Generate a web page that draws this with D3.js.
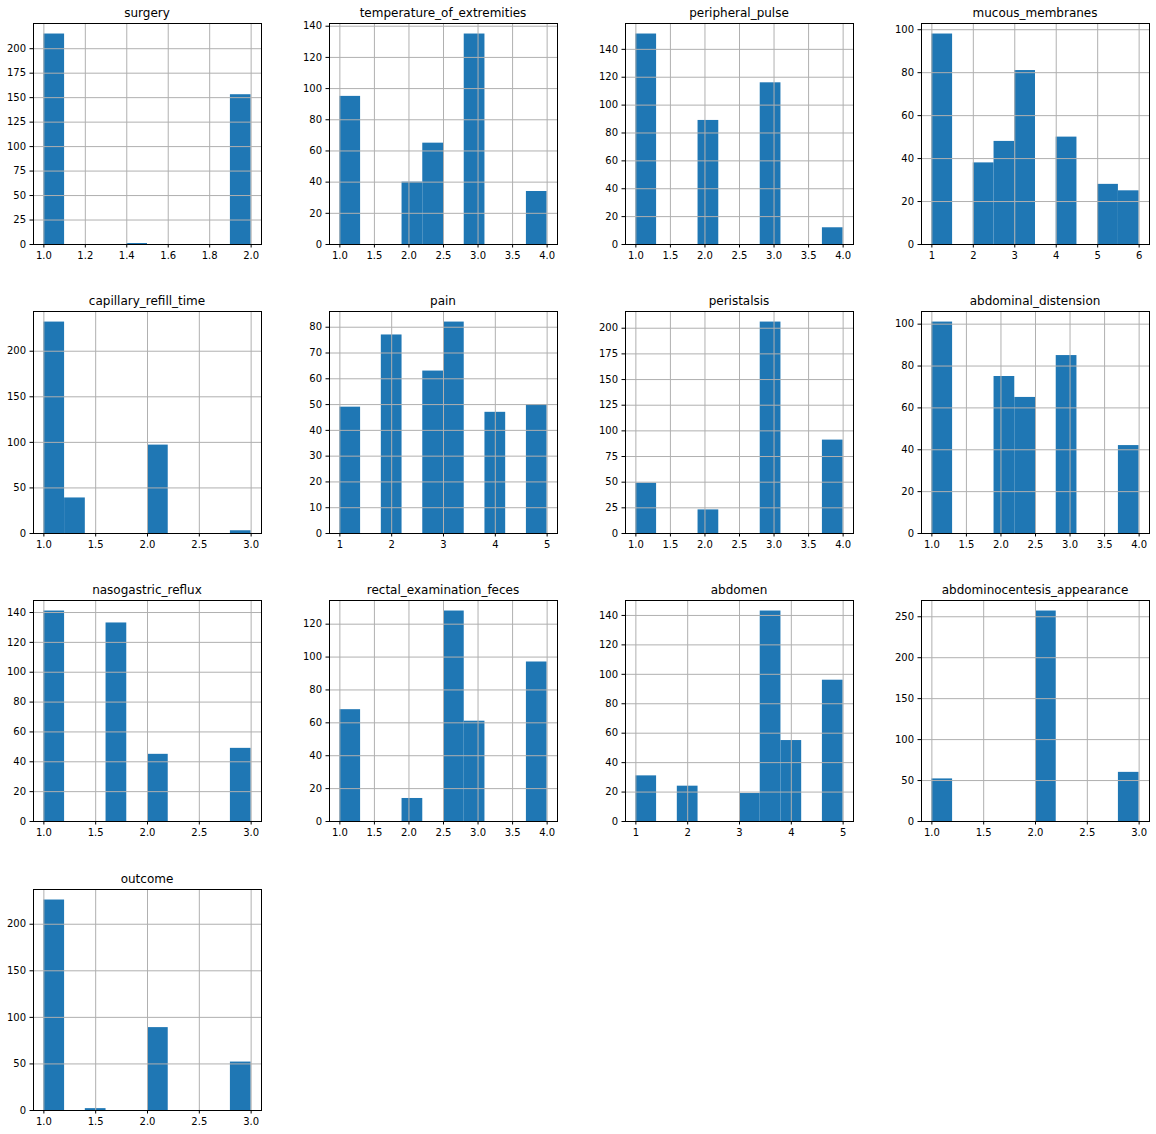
<!DOCTYPE html>
<html>
<head>
<meta charset="utf-8">
<script src="https://cdn.jsdelivr.net/npm/d3@7"></script>
<style>
body { margin: 0; background: #fff; }
text { font-family: "DejaVu Sans", sans-serif; fill: #000; }
</style>
</head>
<body>
<script>
var titles = ["surgery", "temperature_of_extremities", "peripheral_pulse", "mucous_membranes",
	"capillary_refill_time", "pain", "peristalsis", "abdominal_distension",
	"nasogastric_reflux", "rectal_examination_feces", "abdomen", "abdominocentesis_appearance",
	"outcome"]

// each histogram has ten equal bins between its min and max
var binMin = [1, 1, 1, 1, 1, 1, 1, 1, 1, 1, 1, 1, 1]
var binMax = [2, 4, 4, 6, 3, 5, 4, 4, 3, 4, 5, 3, 3]

var counts = [
	[215, 0, 0, 0, 1, 0, 0, 0, 0, 153],
	[95, 0, 0, 40, 65, 0, 135, 0, 0, 34],
	[151, 0, 0, 89, 0, 0, 116, 0, 0, 12],
	[98, 0, 38, 48, 81, 0, 50, 0, 28, 25],
	[232, 39, 0, 0, 0, 97, 0, 0, 0, 3],
	[49, 0, 77, 0, 63, 82, 0, 47, 0, 50],
	[49, 0, 0, 23, 0, 0, 206, 0, 0, 91],
	[101, 0, 0, 75, 65, 0, 85, 0, 0, 42],
	[141, 0, 0, 133, 0, 45, 0, 0, 0, 49],
	[68, 0, 0, 14, 0, 128, 61, 0, 0, 97],
	[31, 0, 24, 0, 0, 19, 143, 55, 0, 96],
	[52, 0, 0, 0, 0, 257, 0, 0, 0, 60],
	[226, 0, 2, 0, 0, 89, 0, 0, 0, 52]
]

var ticks12 = ["1.0", "1.2", "1.4", "1.6", "1.8", "2.0"]
var ticks14 = ["1.0", "1.5", "2.0", "2.5", "3.0", "3.5", "4.0"]
var ticks13 = ["1.0", "1.5", "2.0", "2.5", "3.0"]
var ticks15 = ["1", "2", "3", "4", "5"]
var ticks16 = ["1", "2", "3", "4", "5", "6"]
var xTicks = [ticks12, ticks14, ticks14, ticks16, ticks13, ticks15, ticks14, ticks14, ticks13, ticks14, ticks15, ticks13, ticks13]

var yTicks = [
	[0, 25, 50, 75, 100, 125, 150, 175, 200],
	[0, 20, 40, 60, 80, 100, 120, 140],
	[0, 20, 40, 60, 80, 100, 120, 140],
	[0, 20, 40, 60, 80, 100],
	[0, 50, 100, 150, 200],
	[0, 10, 20, 30, 40, 50, 60, 70, 80],
	[0, 25, 50, 75, 100, 125, 150, 175, 200],
	[0, 20, 40, 60, 80, 100],
	[0, 20, 40, 60, 80, 100, 120, 140],
	[0, 20, 40, 60, 80, 100, 120],
	[0, 20, 40, 60, 80, 100, 120, 140],
	[0, 50, 100, 150, 200, 250],
	[0, 50, 100, 150, 200]
]

var panelW = 228

var svg = d3.select("body").append("svg")
	.attr("width", 1156)
	.attr("height", 1134)
	.style("display", "block")

titles.forEach(function(title, i) {
	var row = Math.floor(i / 4)
	var left = 33 + (i % 4) * 296
	var top = Math.floor(23 + row * 288.7)
	var panelH = Math.floor(23 + row * 288.7 + 221.4) - top
	var lo = binMin[i], hi = binMax[i]
	var pad = (hi - lo) * 0.05
	var data = counts[i]
	var binW = (hi - lo) / data.length

	var x = d3.scaleLinear().domain([lo - pad, hi + pad]).range([0, panelW])
	var y = d3.scaleLinear().domain([0, d3.max(data) * 1.05]).range([panelH, 0])

	var g = svg.append("g").attr("transform", "translate(" + left + "," + top + ")")

	g.selectAll("rect.bar")
		.data(data)
		.enter()
		.append("rect")
		.attr("class", "bar")
		.attr("x", function(d, j) { return x(lo + j * binW) })
		.attr("y", function(d) { return y(d) })
		.attr("width", x(lo + binW) - x(lo))
		.attr("height", function(d) { return panelH - y(d) })
		.attr("fill", "#1f77b4")

	var xVals = xTicks[i].map(Number)

	// grid sits on top of the bars
	g.append("g").attr("class", "grid")
		.attr("transform", "translate(0," + panelH + ")")
		.call(d3.axisBottom(x).tickValues(xVals).tickSize(-panelH).tickFormat(""))
	g.append("g").attr("class", "grid")
		.call(d3.axisLeft(y).tickValues(yTicks[i]).tickSize(-panelW).tickFormat(""))
	g.selectAll(".grid .domain").remove()
	g.selectAll(".grid line").attr("stroke", "#b0b0b0").attr("stroke-width", 1)

	g.append("rect")
		.attr("x", 0.5)
		.attr("y", 0.5)
		.attr("width", panelW)
		.attr("height", panelH)
		.attr("fill", "none")
		.attr("stroke", "#000")
		.attr("stroke-width", 1)

	var axX = g.append("g")
		.attr("transform", "translate(0," + panelH + ")")
		.call(d3.axisBottom(x).tickValues(xVals).tickSize(3.5).tickPadding(4.5)
			.tickFormat(function(d, j) { return xTicks[i][j] }))
	var axY = g.append("g")
		.call(d3.axisLeft(y).tickValues(yTicks[i]).tickSize(3.5).tickPadding(3.5))
	axX.select(".domain").remove()
	axY.select(".domain").remove()
	g.selectAll("g.tick text").attr("font-size", 10).attr("font-family", null)

	g.append("text")
		.attr("x", panelW / 2)
		.attr("y", -6)
		.attr("text-anchor", "middle")
		.attr("font-size", 12)
		.text(title)
})
</script>
</body>
</html>
